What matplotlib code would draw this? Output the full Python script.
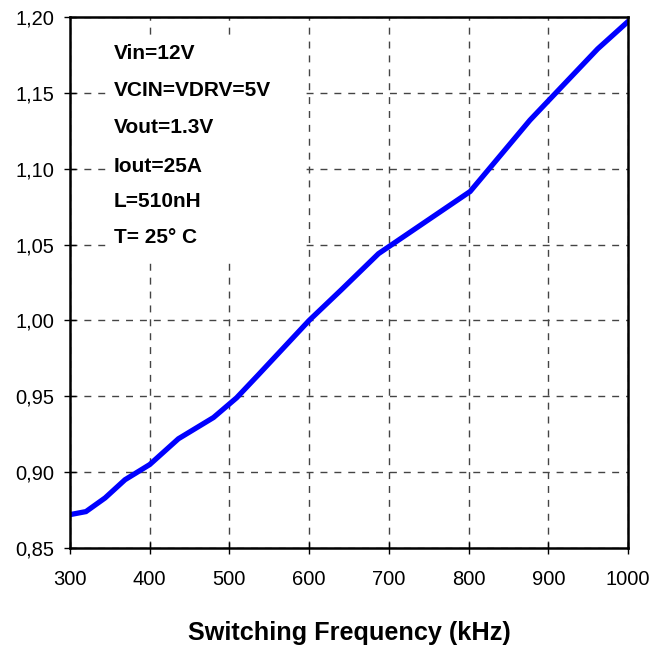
import matplotlib.pyplot as plt
from matplotlib.patches import Rectangle

# Data
freq_khz = [300, 320, 344, 369, 400, 436, 480, 509, 536, 600, 640, 687, 802, 877, 962, 1000]
ratio = [0.872, 0.874, 0.883, 0.895, 0.905, 0.922, 0.936, 0.949, 0.964, 1.000, 1.020, 1.044, 1.085, 1.132, 1.179, 1.197]

x_ticks = [300, 400, 500, 600, 700, 800, 900, 1000]
y_ticks = [0.85, 0.90, 0.95, 1.00, 1.05, 1.10, 1.15, 1.20]
notes = ['Vin=12V', 'VCIN=VDRV=5V', 'Vout=1.3V', 'Iout=25A', 'L=510nH', 'T= 25° C']

plt.rcParams['font.family'] = ['Liberation Sans', 'DejaVu Sans']

fig = plt.figure(figsize=(6.68, 6.46), dpi=100)
ax = fig.add_axes([0.1048, 0.1517, 0.8353, 0.822])

ax.set_axisbelow(True)
ax.grid(True, color='#444444', linestyle=(0, (5, 5)), linewidth=1)

# white box behind the condition notes hides the grid
ax.add_patch(Rectangle((0.066, 0.539), 0.346, 0.421, transform=ax.transAxes,
                       facecolor='white', edgecolor='none', zorder=1))
note_y = [0.932, 0.861, 0.791, 0.719, 0.653, 0.584]
for txt, yy in zip(notes, note_y):
    ax.text(0.079, yy, txt, transform=ax.transAxes, fontsize=15, fontweight='bold',
            va='center', ha='left', zorder=3)

ax.plot(freq_khz, ratio, color='#0000ff', linewidth=3.8, zorder=2, solid_joinstyle='miter')

ax.set_xlim(300, 1000)
ax.set_ylim(0.85, 1.20)
ax.set_xticks(x_ticks)
ax.set_xticklabels([str(v) for v in x_ticks])
ax.set_yticks(y_ticks)
ax.set_yticklabels([f'{v:.2f}'.replace('.', ',') for v in y_ticks])
ax.tick_params(axis='x', direction='inout', length=8, width=1, labelsize=14.5, pad=12)
ax.tick_params(axis='y', direction='inout', length=8, width=1, labelsize=14.5, pad=7)

for s in ax.spines.values():
    s.set_linewidth(1.8)
    s.set_color('black')

ax.set_xlabel('Switching Frequency (kHz)', fontsize=18.2, fontweight='bold', labelpad=23)

fig.savefig('out.png', dpi=100)
